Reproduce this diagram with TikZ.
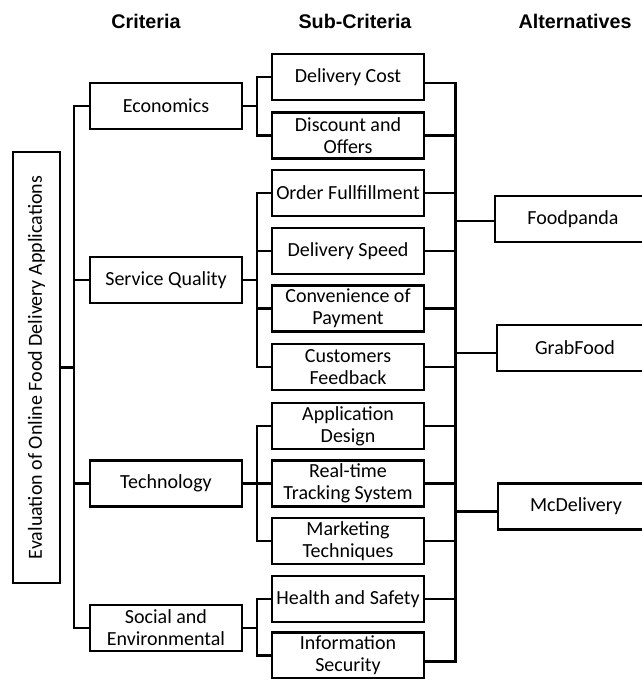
\documentclass[tikz,border=0pt]{standalone}
\usepackage{fontspec}
\setmainfont{Carlito}
\newfontfamily\hdrfont{Liberation Sans}
\begin{document}
\begin{tikzpicture}[x=0.75pt,y=-0.75pt,
  box/.style={draw=black, line width=2.2pt, fill=white, inner sep=0pt, align=center,
    font=\fontsize{15}{16.5}\selectfont},
  subbox/.style={box, minimum width=114pt, minimum height=34.5pt},
  critbox/.style={box, minimum width=114pt, minimum height=34.5pt},
  altbox/.style={box, minimum width=117pt, minimum height=34.5pt},
  hdr/.style={font=\hdrfont\bfseries\fontsize{14.8}{16}\selectfont, inner sep=0pt},
  link/.style={line width=2.2pt, line join=miter}]
\useasboundingbox (0,0) rectangle (642,679);
\clip (0,0) rectangle (642,679);

% headers
\node[hdr] (hcrit) at (146,21) {Criteria};
\node[hdr] (hsub) at (355,21) {Sub-Criteria};
\node[hdr] (halt) at (575,21) {Alternatives};

% trunk coordinates
\coordinate (ctr) at (74,0);
\coordinate (sbx) at (257,0);
\coordinate (rtr) at (455.5,0);

% root
\node[box, rotate=90, minimum width=323.25pt, minimum height=35.25pt] (root) at (36.5,367.5)
  {Evaluation of Online Food Delivery Applications};

% criteria
\node[critbox] (eco) at (166,106) {Economics};
\node[critbox] (sq) at (166,280) {Service Quality};
\node[critbox] (tech) at (166,483.5) {Technology};
\node[critbox] (soc) at (166,628) {Social and\\Environmental};

% sub-criteria
\node[subbox] (dc) at (348,77) {Delivery Cost};
\node[subbox] (dis) at (348,135.5) {Discount and\\Offers};
\node[subbox] (of) at (348,193) {Order Fullfillment};
\node[subbox] (ds) at (348,251) {Delivery Speed};
\node[subbox] (cp) at (348,308.5) {Convenience of\\Payment};
\node[subbox] (cf) at (348,367) {Customers\\Feedback};
\node[subbox] (ad) at (348,426) {Application\\Design};
\node[subbox] (rt) at (348,483.5) {Real-time\\Tracking System};
\node[subbox] (mt) at (348,541) {Marketing\\Techniques};
\node[subbox] (hs) at (348,599) {Health and Safety};
\node[subbox] (is) at (348,655.5) {Information\\Security};

% alternatives
\node[altbox] (fp) at (573,219) {Foodpanda};
\node[altbox] (gf) at (575,348) {GrabFood};
\node[altbox] (mc) at (576,506.5) {McDelivery};

% root to criteria trunk
\draw[link] (root.south) -- (root.south -| ctr);
\draw[link] (eco.west) -- (eco.west -| ctr) -- (soc.west -| ctr) -- (soc.west);
\draw[link] (sq.west) -- (sq.west -| ctr);
\draw[link] (tech.west) -- (tech.west -| ctr);

% criteria to sub-criteria brackets
\draw[link] (eco.east) -- (eco.east -| sbx);
\draw[link] (dc.west) -- (dc.west -| sbx) -- (dis.west -| sbx) -- (dis.west);
\draw[link] (sq.east) -- (sq.east -| sbx);
\draw[link] (of.west) -- (of.west -| sbx) -- (cf.west -| sbx) -- (cf.west);
\draw[link] (ds.west) -- (ds.west -| sbx);
\draw[link] (cp.west) -- (cp.west -| sbx);
\draw[link] (tech.east) -- (tech.east -| sbx);
\draw[link] (ad.west) -- (ad.west -| sbx) -- (mt.west -| sbx) -- (mt.west);
\draw[link] (rt.west) -- (rt.west -| sbx);
\draw[link] (soc.east) -- (soc.east -| sbx);
\draw[link] (hs.west) -- (hs.west -| sbx) -- (is.west -| sbx) -- (is.west);

% sub-criteria to right trunk
\coordinate (dcr) at ([yshift=-4.5pt]dc.east);
\coordinate (isr) at ([yshift=-4.5pt]is.east);
\draw[link] (dcr) -- (dcr -| rtr) -- (isr -| rtr) -- (isr);
\foreach \n in {dis,of,ds,cp,cf,ad,rt,mt,hs}
  \draw[link] (\n.east) -- (\n.east -| rtr);

% right trunk to alternatives
\coordinate (fpl) at ([yshift=-1.5pt]fp.west);
\coordinate (gfl) at ([yshift=-3.75pt]gf.west);
\coordinate (mcl) at ([yshift=-4pt]mc.west);
\draw[link] (fpl -| rtr) -- (fpl);
\draw[link] (gfl -| rtr) -- (gfl);
\draw[link] (mcl -| rtr) -- (mcl);
\end{tikzpicture}
\end{document}
